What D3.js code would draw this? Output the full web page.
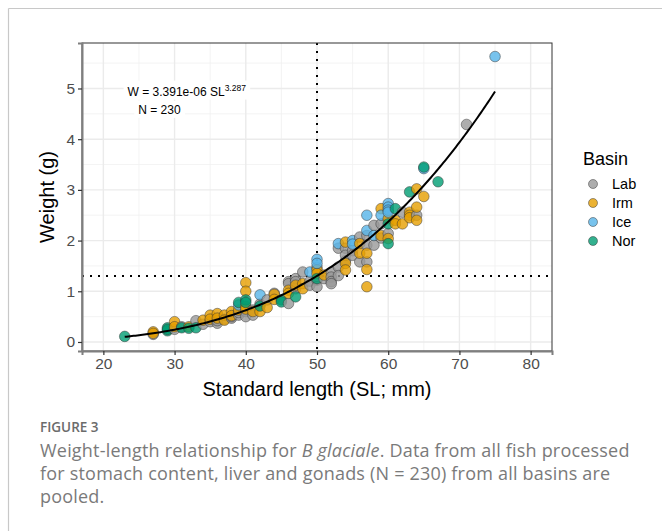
<!DOCTYPE html>
<html>
<head>
<meta charset="utf-8">
<script src="https://cdn.jsdelivr.net/npm/d3@7"></script>
<style>
  body { margin: 0; background: #fff; }
  svg { display: block; }
</style>
</head>
<body>
<div id="chart"></div>
<script>
// --- Data ---
const basins = ['Lab', 'Irm', 'Ice', 'Nor'];
const basinColors = ['#999999', '#E69F00', '#56B4E9', '#009E73'];

// [standard length (mm), weight (g)]
const lab = [
  [27, 0.15], [30, 0.25], [31, 0.30], [33, 0.42], [34, 0.35], [35, 0.40], [36, 0.37], [36, 0.42],
  [37, 0.45], [38, 0.47], [38, 0.50], [39, 0.53], [39, 0.58], [40, 0.60], [40, 0.50], [41, 0.63],
  [41, 0.53], [42, 0.75], [43, 0.83], [44, 0.96], [46, 1.19], [46, 1.15], [46, 0.76], [47, 1.25],
  [47, 1.05], [47, 1.19], [48, 1.38], [49, 1.20], [49, 1.12], [50, 1.47], [50, 1.22], [50, 1.09],
  [51, 1.25], [52, 1.38], [52, 1.28], [52, 1.19], [52, 1.15], [53, 1.48], [53, 1.31], [53, 1.85],
  [54, 1.60], [54, 1.85], [54, 1.71], [55, 1.80], [55, 1.71], [56, 2.07], [56, 1.58], [57, 2.10],
  [57, 1.91], [57, 1.58], [58, 2.30], [58, 1.91], [59, 2.33], [59, 2.05], [60, 2.14], [62, 2.56],
  [64, 2.50], [71, 4.29]
];
const irm = [
  [27, 0.20], [27, 0.17], [30, 0.40], [30, 0.30], [32, 0.30], [34, 0.43], [35, 0.53], [35, 0.45],
  [36, 0.56], [36, 0.47], [37, 0.53], [37, 0.43], [38, 0.60], [38, 0.52], [39, 0.63], [40, 1.17],
  [40, 1.00], [40, 0.70], [40, 0.65], [41, 0.60], [42, 0.60], [43, 0.68], [44, 0.94], [44, 0.84],
  [46, 1.02], [46, 0.96], [47, 1.12], [48, 1.15], [48, 1.05], [50, 1.42], [50, 1.35], [51, 1.32],
  [54, 1.55], [54, 1.42], [54, 1.97], [56, 1.94], [56, 1.75], [57, 1.75], [57, 1.43], [57, 1.09],
  [59, 2.63], [59, 2.10], [60, 2.43], [60, 2.04], [61, 2.40], [61, 2.33], [62, 2.33], [63, 2.56],
  [63, 2.50], [63, 2.45], [64, 3.02], [64, 2.66], [64, 2.40], [65, 2.87]
];
const ice = [
  [39, 0.73], [42, 0.93], [49, 1.38], [50, 1.63], [50, 1.55], [53, 1.94], [55, 2.00], [55, 1.93],
  [57, 2.50], [57, 2.20], [58, 2.10], [59, 2.50], [60, 2.73], [60, 2.66], [60, 2.60], [60, 2.56],
  [65, 3.42], [75, 5.63]
];
const nor = [
  [23, 0.11], [29, 0.28], [29, 0.22], [29, 0.25], [31, 0.28], [32, 0.27], [33, 0.28], [39, 0.78],
  [40, 0.83], [40, 0.78], [42, 0.71], [45, 0.83], [45, 0.79], [47, 0.89], [50, 1.25], [60, 2.33],
  [60, 1.94], [61, 2.63], [63, 2.96], [65, 3.45], [67, 3.16]
];

// fitted power curve W = a * SL^b
const fitA = 3.391e-6;
const fitB = 3.287;
const fitRange = [23, 75];
const refLength = 50;
const refWeight = 1.3;

const xTicks = [20, 30, 40, 50, 60, 70, 80];
const xMinor = [25, 35, 45, 55, 65, 75];
const yTicks = [0, 1, 2, 3, 4, 5];
const yMinor = [0.5, 1.5, 2.5, 3.5, 4.5, 5.5];

const captionHead = 'FIGURE 3';
const captionLines = [
  ['Weight-length relationship for ', 'B glaciale', '. Data from all fish processed'],
  ['for stomach content, liver and gonads (N = 230) from all basins are'],
  ['pooled.']
];

// --- Layout ---
const W = 662, H = 531;
const panel = { left: 82, right: 552, top: 43, bottom: 351 };
const FONT = '"Liberation Sans", Arial, sans-serif';

const svg = d3.select('#chart').append('svg')
  .attr('width', W).attr('height', H);

// figure frame (page rules)
svg.append('line').attr('x1', 8.5).attr('x2', W).attr('y1', 8.5).attr('y2', 8.5)
  .attr('stroke', '#c8c8c8').attr('stroke-width', 1.2);
svg.append('line').attr('x1', 8.5).attr('x2', 8.5).attr('y1', 8.5).attr('y2', H)
  .attr('stroke', '#c8c8c8').attr('stroke-width', 1.2);

const x = d3.scaleLinear().domain([17, 83]).range([panel.left, panel.right]);
const y = d3.scaleLinear().domain([-0.178, 5.897]).range([panel.bottom, panel.top]);
const color = d3.scaleOrdinal().domain(basins).range(basinColors);

// --- Grid ---
const grid = svg.append('g');
grid.selectAll('.xminor').data(xMinor).join('line')
  .attr('x1', d => x(d)).attr('x2', d => x(d))
  .attr('y1', panel.top).attr('y2', panel.bottom)
  .attr('stroke', '#f0f0f0').attr('stroke-width', 0.8);
grid.selectAll('.yminor').data(yMinor).join('line')
  .attr('y1', d => y(d)).attr('y2', d => y(d))
  .attr('x1', panel.left).attr('x2', panel.right)
  .attr('stroke', '#f0f0f0').attr('stroke-width', 0.8);
grid.selectAll('.xmajor').data(xTicks).join('line')
  .attr('x1', d => x(d)).attr('x2', d => x(d))
  .attr('y1', panel.top).attr('y2', panel.bottom)
  .attr('stroke', '#ebebeb').attr('stroke-width', 1.4);
grid.selectAll('.ymajor').data(yTicks).join('line')
  .attr('y1', d => y(d)).attr('y2', d => y(d))
  .attr('x1', panel.left).attr('x2', panel.right)
  .attr('stroke', '#ebebeb').attr('stroke-width', 1.4);

// --- Reference lines ---
svg.append('line')
  .attr('x1', x(refLength)).attr('x2', x(refLength))
  .attr('y1', panel.top).attr('y2', panel.bottom)
  .attr('stroke', '#000').attr('stroke-width', 2).attr('stroke-dasharray', '2,6');
svg.append('line')
  .attr('x1', panel.left).attr('x2', panel.right)
  .attr('y1', y(refWeight)).attr('y2', y(refWeight))
  .attr('stroke', '#000').attr('stroke-width', 2).attr('stroke-dasharray', '2,6');

// --- Points ---
const allPoints = [
  ...lab.map(d => ({ basin: 'Lab', sl: d[0], w: d[1] })),
  ...irm.map(d => ({ basin: 'Irm', sl: d[0], w: d[1] })),
  ...ice.map(d => ({ basin: 'Ice', sl: d[0], w: d[1] })),
  ...nor.map(d => ({ basin: 'Nor', sl: d[0], w: d[1] }))
].sort((a, b) => a.sl - b.sl);

svg.append('g').selectAll('circle').data(allPoints).join('circle')
  .attr('cx', d => x(d.sl)).attr('cy', d => y(d.w)).attr('r', 5.3)
  .attr('fill', d => color(d.basin)).attr('fill-opacity', 0.8)
  .attr('stroke', '#333').attr('stroke-opacity', 0.8).attr('stroke-width', 0.6);

// --- Fit curve ---
const curve = d3.range(fitRange[0], fitRange[1] + 0.01, 0.25).map(sl => [sl, fitA * Math.pow(sl, fitB)]);
svg.append('path').datum(curve)
  .attr('d', d3.line().x(d => x(d[0])).y(d => y(d[1])))
  .attr('fill', 'none').attr('stroke', '#000').attr('stroke-width', 2);

// --- Panel border & axes ---
svg.append('rect')
  .attr('x', panel.left).attr('y', panel.top)
  .attr('width', panel.right - panel.left).attr('height', panel.bottom - panel.top)
  .attr('fill', 'none').attr('stroke', '#333').attr('stroke-width', 1);

const xAxis = svg.append('g')
  .attr('transform', `translate(0,${panel.bottom})`)
  .call(d3.axisBottom(x).tickValues(xTicks).tickFormat(d3.format('d')).tickSize(4).tickPadding(3));
const yAxis = svg.append('g')
  .attr('transform', `translate(${panel.left},0)`)
  .call(d3.axisLeft(y).tickValues(yTicks).tickFormat(d3.format('d')).tickSize(4).tickPadding(3));
[xAxis, yAxis].forEach(g => {
  g.select('.domain').attr('stroke', '#7f7f7f').attr('stroke-width', 2);
  g.selectAll('.tick line').attr('stroke', '#333').attr('stroke-width', 1.2);
  g.selectAll('.tick text').attr('fill', '#4d4d4d')
    .style('font-family', FONT).style('font-size', '15.5px');
});

// axis titles
svg.append('text')
  .attr('x', (panel.left + panel.right) / 2).attr('y', 396)
  .attr('text-anchor', 'middle')
  .style('font-family', FONT).style('font-size', '20px').attr('fill', '#000')
  .text('Standard length (SL; mm)');
svg.append('text')
  .attr('transform', `translate(54,${(panel.top + panel.bottom) / 2}) rotate(-90)`)
  .attr('text-anchor', 'middle')
  .style('font-family', FONT).style('font-size', '20px').attr('fill', '#000')
  .text('Weight (g)');

// --- Annotation labels ---
const ann = svg.append('g').style('font-family', FONT).attr('fill', '#000');
const eq = ann.append('text').attr('x', x(23.4)).attr('y', y(4.86)).style('font-size', '12px');
eq.append('tspan').text('W = 3.391e-06 SL');
eq.append('tspan').attr('dy', -5).style('font-size', '8.5px').text(String(fitB));
const nText = ann.append('text').attr('x', x(24.9)).attr('y', y(4.5)).style('font-size', '12px')
  .text('N = 230');
// white label backgrounds
[eq, nText].forEach(t => {
  const b = t.node().getBBox();
  ann.insert('rect', 'text')
    .attr('x', b.x - 4).attr('y', b.y - 2).attr('width', b.width + 8).attr('height', b.height + 3)
    .attr('fill', '#fff');
});

// --- Legend ---
const legend = svg.append('g').style('font-family', FONT);
legend.append('text').attr('x', 583).attr('y', 165)
  .style('font-size', '18px').attr('fill', '#000').text('Basin');
const items = legend.selectAll('.item').data(basins).join('g')
  .attr('transform', (d, i) => `translate(593,${184 + i * 19})`);
items.append('circle').attr('r', 4.5)
  .attr('fill', d => color(d)).attr('fill-opacity', 0.8)
  .attr('stroke', '#333').attr('stroke-opacity', 0.8).attr('stroke-width', 0.6);
items.append('text').attr('x', 19).attr('y', 5)
  .style('font-size', '14.5px').attr('fill', '#000').text(d => d);

// --- Caption ---
const CAP_FONT = '"Open Sans", "Noto Sans", sans-serif';
svg.append('text').attr('x', 40).attr('y', 432)
  .style('font-family', CAP_FONT).style('font-size', '13.5px').style('font-weight', 600)
  .attr('fill', '#6b6b6b').text(captionHead);
captionLines.forEach((parts, i) => {
  const t = svg.append('text').attr('x', 40).attr('y', 457 + i * 23)
    .style('font-family', CAP_FONT).style('font-size', '18px').style('letter-spacing', '0.2px')
    .attr('fill', '#7a7a7a');
  parts.forEach((p, j) => {
    t.append('tspan').style('font-style', parts.length > 1 && j === 1 ? 'italic' : 'normal').text(p);
  });
});
</script>
</body>
</html>
